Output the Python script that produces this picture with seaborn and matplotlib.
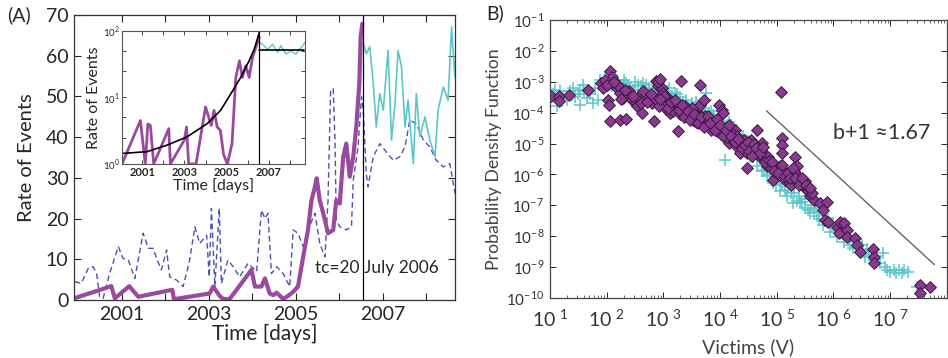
import numpy as np
import pandas as pd
import seaborn as sns
import matplotlib.pyplot as plt
from matplotlib.ticker import FixedLocator, FuncFormatter, LogLocator, NullFormatter

# panel A: rate of events (main axis)
purple_t = [1999.90, 2000.76, 2000.84, 2001.17, 2001.38, 2002.16, 2002.20, 2003.02, 2003.10, 2003.25,
            2003.33, 2003.48, 2003.98, 2004.06, 2004.21, 2004.29, 2004.40, 2004.48, 2004.56, 2004.71,
            2004.82, 2004.94, 2005.05, 2005.13, 2005.21, 2005.28, 2005.36, 2005.44, 2005.48, 2005.55,
            2005.63, 2005.74, 2005.86, 2005.93, 2006.01, 2006.09, 2006.16, 2006.24, 2006.32, 2006.39,
            2006.46, 2006.49, 2006.53]
purple_v = [0.4, 3.4, 0.4, 3.4, 0.8, 2.5, 0.2, 1.6, 3.3, 1.0,
            0.25, 0.25, 7.4, 3.3, 3.3, 5.3, 1.6, 1.2, 1.8, 0.25,
            1.0, 2.0, 3.3, 8.2, 13.1, 17.2, 24.5, 27.8, 29.9, 24.5,
            21.3, 16.4, 17.2, 24.5, 23.7, 35.2, 38.4, 30.3, 35.2, 42.5,
            53.2, 64.6, 67.9]

blue_t = [1999.92, 2000.07, 2000.23, 2000.34, 2000.42, 2000.49, 2000.57, 2000.72, 2000.92, 2001.03,
          2001.15, 2001.30, 2001.49, 2001.61, 2001.72, 2001.80, 2001.91, 2002.03, 2002.10, 2002.26,
          2002.41, 2002.56, 2002.68, 2002.79, 2002.95, 2003.01, 2003.06, 2003.14, 2003.24, 2003.29,
          2003.44, 2003.56, 2003.71, 2003.90, 2004.10, 2004.21, 2004.29, 2004.36, 2004.44, 2004.56,
          2004.71, 2004.86, 2004.94, 2005.05, 2005.17, 2005.28, 2005.44, 2005.55, 2005.67, 2005.74,
          2005.80, 2005.86, 2005.90, 2005.93, 2006.01, 2006.16, 2006.28, 2006.32, 2006.43, 2006.51,
          2006.55, 2006.62, 2006.66, 2006.78, 2006.93, 2007.08, 2007.24, 2007.39, 2007.51, 2007.62,
          2007.77, 2007.93, 2008.08, 2008.23, 2008.39, 2008.54, 2008.66]
blue_v = [4.5, 4.1, 7.8, 8.2, 6.5, 0.8, 0.4, 6.5, 13.1, 10.2,
          9.8, 5.3, 16.4, 12.7, 12.7, 10.2, 7.4, 12.3, 5.7, 4.9,
          3.3, 9.8, 18.0, 13.9, 15.9, 5.7, 22.5, 3.3, 22.5, 4.1,
          9.8, 8.2, 5.7, 9.0, 7.0, 22.1, 20.0, 21.3, 6.5, 8.2,
          6.5, 3.3, 17.2, 16.4, 13.1, 17.2, 21.3, 13.9, 10.6, 24.5,
          51.5, 51.9, 39.3, 19.6, 18.0, 17.2, 18.0, 29.4, 37.6, 49.9,
          46.6, 31.1, 27.8, 35.2, 38.4, 36.4, 34.3, 35.2, 37.6, 44.2,
          43.3, 39.3, 37.6, 34.3, 32.7, 33.5, 26.2]

cyan_t = [2006.55, 2006.62, 2006.70, 2006.78, 2006.85, 2006.93, 2007.01, 2007.12, 2007.20, 2007.28,
          2007.35, 2007.43, 2007.51, 2007.58, 2007.70, 2007.77, 2007.85, 2007.97, 2008.08, 2008.20,
          2008.27, 2008.39, 2008.50, 2008.58, 2008.62, 2008.66]
cyan_v = [63.0, 60.5, 62.2, 53.2, 42.5, 50.7, 46.6, 61.3, 39.3, 48.3,
          61.3, 57.2, 42.5, 49.1, 33.5, 50.7, 40.1, 45.0, 39.3, 35.2,
          46.6, 52.3, 49.1, 67.1, 60.5, 54.8]

tc_year = 2006.55

# panel A inset (log scale)
ins_purple_t = [2000.05, 2000.92, 2001.15, 2001.27, 2001.39, 2001.55, 2002.26, 2002.34, 2003.00, 2003.10,
                2003.20, 2003.55, 2004.00, 2004.27, 2004.40, 2004.55, 2004.70, 2004.85, 2005.03, 2005.25,
                2005.43, 2005.60, 2005.74, 2005.90, 2006.06, 2006.22, 2006.37, 2006.54]
ins_purple_v = [1.0, 4.5, 1.0, 4.0, 3.8, 1.0, 3.4, 1.0, 2.3, 3.6,
                1.0, 1.0, 7.2, 3.8, 6.4, 3.6, 3.2, 1.4, 1.0, 2.0,
                20, 35.6, 20, 30, 20, 40, 56, 80]
ins_cyan_t = [2006.55, 2006.69, 2006.93, 2007.17, 2007.40, 2007.56, 2007.80, 2008.04, 2008.27, 2008.51, 2008.70]
ins_cyan_v = [67, 63, 53, 63, 47.6, 60, 45, 50, 45, 56, 67]
fit_t = [2000.05, 2001.23, 2002.18, 2003.13, 2004.08, 2004.71, 2005.19, 2005.66, 2006.06, 2006.30, 2006.54]
fit_v = [1.44, 1.53, 1.92, 2.56, 4.05, 6.4, 11.3, 20, 35.7, 53, 95]
flat_t = [2006.55, 2008.65]
flat_v = [51.5, 51.5]

# panel B: pdf of victims, log10 values
diam_lx = [1.02, 1.16, 1.16, 1.34, 1.68, 1.91, 1.94, 2.03, 2.06, 2.09, 2.03, 2.05, 2.06, 2.24, 2.35,
           2.18, 2.24, 2.29, 2.38, 2.44, 2.50, 2.53, 2.62, 2.68, 2.76, 2.84, 2.88, 2.91, 2.97, 2.99,
           3.03, 3.06, 3.12, 3.15, 3.21, 3.26, 3.32, 3.41, 3.47, 3.53, 3.62, 3.65, 3.65, 3.71, 3.74,
           3.82, 3.88, 3.94, 3.99, 4.03, 4.06, 4.11, 4.15, 4.21, 4.26, 4.29, 4.35, 4.41, 4.47, 4.47,
           4.54, 4.59, 4.65, 4.68, 4.71, 4.74, 4.79, 4.82, 4.88, 4.94, 5.00, 5.06, 5.08, 5.09, 5.09,
           5.09, 5.15, 5.21, 5.26, 5.32, 5.35, 5.38, 5.41, 5.47, 5.53, 5.59, 5.65, 5.76, 5.88, 5.82,
           5.85, 5.91, 6.06, 6.09, 6.12, 6.18, 6.24, 6.24, 6.38, 6.41, 6.47, 6.69, 6.71, 6.71, 7.53,
           7.53, 7.71,
           3.05, 3.10, 3.18, 3.25, 3.30, 3.38, 3.45, 3.50, 3.58, 3.60, 3.68, 3.75, 3.80, 3.85, 3.90,
           3.97, 4.02, 4.08, 4.12, 4.18, 4.24, 4.30, 4.36, 4.42, 4.50, 4.55, 4.62, 4.66, 4.72, 4.78,
           4.85, 4.90, 4.97, 5.02, 5.12, 5.18, 5.25, 5.30, 5.36, 5.44, 5.50, 5.56, 5.62, 2.55, 2.60,
           2.70, 2.80, 2.86, 2.93, 2.40, 2.20, 2.10, 1.98, 2.00,
           3.02, 3.08, 3.13, 3.20, 3.27, 3.33, 3.36, 3.43, 3.48, 3.55, 3.62, 3.67, 3.72, 3.78, 3.83,
           3.92, 3.95, 4.00, 4.05, 4.10, 4.16, 4.20, 4.27, 4.32, 4.38, 4.44, 4.50, 4.52, 4.57, 4.60,
           4.64, 4.70, 4.76, 4.80, 4.86, 4.92, 4.96, 5.03, 5.10, 5.14, 5.20, 5.23, 5.28, 5.33, 5.39,
           5.45, 5.52, 5.58, 2.65, 2.72, 2.78, 2.95, 2.46, 2.33, 2.14, 2.26, 2.90, 2.95]
diam_ly = [-3.47, -3.47, -3.63, -3.44, -3.27, -3.03, -3.20, -2.98, -2.66, -3.03, -3.58, -3.74, -4.28, -4.25, -4.20,
           -3.20, -3.36, -3.52, -3.41, -3.58, -3.63, -3.79, -4.01, -3.58, -3.63, -4.28, -2.98, -3.14, -3.20, -3.36,
           -3.63, -3.90, -4.01, -3.79, -3.85, -4.60, -2.98, -3.90, -4.12, -4.23, -4.01, -3.12, -3.74, -3.58, -4.12,
           -4.44, -4.39, -4.60, -3.74, -3.90, -4.01, -4.66, -4.98, -4.87, -4.55, -5.09, -5.31, -5.09, -5.31, -5.79,
           -4.87, -5.09, -4.55, -5.25, -5.42, -4.98, -5.52, -5.74, -5.63, -6.17, -5.96, -5.74, -3.34, -4.82, -5.04,
           -5.31, -6.17, -6.23, -6.34, -5.42, -5.74, -6.06, -6.23, -6.39, -6.50, -6.71, -6.82, -6.93, -6.88, -7.15,
           -7.47, -7.53, -7.69, -7.90, -7.53, -7.58, -7.80, -8.01, -8.07, -8.28, -8.50, -8.42, -8.66, -8.88, -9.58,
           -9.85, -9.64,
           -3.75, -3.55, -3.95, -3.70, -4.05, -3.80, -4.00, -3.85, -4.30, -4.10, -4.20, -4.30, -4.25, -4.55, -4.35,
           -4.45, -4.70, -4.50, -4.80, -4.60, -4.90, -4.75, -5.00, -4.90, -5.10, -5.20, -5.05, -5.35, -5.20, -5.35,
           -5.45, -5.80, -5.70, -5.85, -5.90, -6.00, -6.05, -5.90, -6.20, -6.30, -6.20, -6.55, -6.60, -3.50, -3.70,
           -3.45, -3.70, -3.55, -3.80, -3.30, -3.10, -2.85, -2.95, -3.10,
           -3.45, -3.85, -3.65, -3.60, -3.90, -3.75, -4.15, -3.95, -4.25, -4.05, -4.35, -4.15, -4.45, -4.10, -4.35,
           -4.55, -4.20, -4.40, -4.75, -4.55, -4.40, -4.75, -4.95, -4.85, -5.15, -5.05, -4.95, -5.25, -5.40, -5.00,
           -5.15, -5.30, -5.10, -5.60, -5.55, -5.60, -5.90, -5.95, -5.70, -6.05, -5.95, -6.10, -5.80, -6.10, -6.35,
           -6.10, -6.35, -6.45, -3.30, -3.65, -3.40, -3.55, -3.45, -3.25, -3.00, -3.55, -3.00, -2.90]

plus_lx = [1.09, 1.18, 1.12, 1.24, 1.41, 1.53, 1.59, 1.65, 1.53, 1.76, 1.85, 1.88, 1.97, 2.06, 2.12,
           2.18, 2.24, 2.29, 2.38, 2.47, 2.56, 2.65, 2.74, 2.82, 2.94, 3.06, 3.15, 3.24, 3.35, 3.44,
           3.53, 3.65, 3.76, 3.76, 3.88, 4.00, 4.12, 4.09, 4.24, 4.35, 4.41, 4.53, 4.65, 4.74, 4.82,
           4.94, 5.06, 5.18, 5.29, 5.41, 5.50, 5.59, 5.71, 5.82, 5.94, 6.06, 6.18, 6.29, 6.35, 6.47,
           6.56, 6.71, 6.88, 6.82, 6.91, 7.00, 7.06, 7.15, 7.21, 7.32, 7.47,
           3.00, 3.10, 3.20, 3.30, 3.40, 3.50, 3.60, 3.70, 3.80, 3.90, 4.00, 4.20, 4.30, 4.45, 4.60,
           4.70, 4.80, 4.90, 5.00, 5.10, 5.20, 5.30, 5.40, 5.50, 5.60, 5.70, 5.90, 6.00, 6.10, 6.20,
           6.30, 6.40, 6.50, 6.60, 2.00, 2.30, 2.50, 2.70, 2.90, 1.30, 1.45, 1.70,
           1.05, 1.20, 1.35, 1.50, 1.60, 1.80, 1.90, 2.10, 2.20, 2.35, 2.42, 2.60, 2.75, 2.88, 3.05,
           3.25, 3.45, 3.58, 3.72, 3.85, 3.95, 4.05, 4.15, 4.25, 4.40, 4.50, 4.58, 4.68, 4.78, 4.88,
           4.98, 5.05, 5.15, 5.25, 5.35, 5.45, 5.55, 5.65, 5.75, 5.85, 5.98, 6.12, 6.25, 6.42, 6.52,
           6.62, 6.75, 6.95, 7.10, 7.25]
plus_ly = [-3.25, -3.31, -3.79, -3.47, -3.20, -3.25, -3.12, -3.52, -3.74, -3.68, -3.58, -2.93, -2.87, -3.09, -2.98,
           -2.93, -3.14, -3.09, -3.14, -3.25, -3.09, -3.03, -3.20, -3.36, -3.25, -3.31, -3.47, -3.58, -3.68, -3.79,
           -3.90, -3.90, -3.36, -3.58, -4.06, -4.28, -4.39, -5.52, -4.60, -4.87, -5.25, -5.42, -5.74, -5.90, -6.06,
           -6.28, -6.55, -6.71, -6.93, -6.93, -7.09, -7.26, -7.36, -7.63, -7.85, -8.01, -8.18, -8.28, -8.39, -8.50,
           -8.66, -8.77, -8.55, -8.88, -8.99, -9.15, -9.10, -9.10, -9.20, -9.15, -9.64,
           -3.40, -3.20, -3.35, -3.50, -3.60, -3.70, -3.75, -3.85, -4.00, -4.20, -4.10, -4.40, -4.60, -4.90, -5.20,
           -5.50, -5.70, -5.90, -6.10, -6.30, -6.40, -6.60, -6.70, -6.80, -7.00, -7.10, -7.40, -7.60, -7.70, -7.90,
           -8.00, -8.20, -8.30, -8.40, -3.00, -2.95, -3.00, -3.10, -3.15, -3.60, -3.50, -3.40,
           -3.40, -3.55, -3.30, -3.40, -3.30, -3.20, -3.05, -3.15, -3.05, -3.05, -3.20, -3.15, -3.30, -3.30, -3.50,
           -3.40, -3.90, -3.65, -4.05, -3.95, -4.30, -4.50, -4.30, -4.75, -4.75, -5.15, -5.45, -5.30, -5.85, -6.00,
           -6.35, -6.20, -6.50, -6.60, -6.85, -6.90, -7.15, -7.20, -7.45, -7.50, -7.70, -7.90, -8.10, -8.35, -8.45,
           -8.60, -8.65, -9.10, -9.20, -9.10]

guide_lx = [4.82, 7.78]
guide_ly = [-3.94, -8.92]

PURPLE = '#9a4a9e'
BLUE = '#4f4fb0'
CYAN = '#5cc6c9'

sns.set_style('ticks')
plt.rcParams['font.family'] = ['Lato', 'DejaVu Sans']
plt.rcParams['mathtext.fontset'] = 'custom'
plt.rcParams['mathtext.rm'] = 'Lato'

fig = plt.figure(figsize=(9.48, 3.58), dpi=100)
ax = fig.add_axes([0.078, 0.162, 0.402, 0.796])
ins = fig.add_axes([0.1287, 0.542, 0.193, 0.3715])
axb = fig.add_axes([0.580, 0.1676, 0.4188, 0.7765])

# ---- panel A main
sns.lineplot(x=blue_t, y=blue_v, ax=ax, color=BLUE, lw=1.0, linestyle=(0, (4, 2.5)),
             estimator=None, sort=False)
sns.lineplot(x=cyan_t, y=cyan_v, ax=ax, color=CYAN, lw=1.2, estimator=None, sort=False)
sns.lineplot(x=purple_t, y=purple_v, ax=ax, color=PURPLE, lw=3.0, estimator=None, sort=False)
ax.axvline(tc_year, color='black', lw=0.9)
ax.set_xlim(1999.9, 2008.66)
ax.set_ylim(0, 70)
ax.set_xticks([2001, 2002, 2003, 2004, 2005, 2006, 2007, 2008])
ax.set_xticklabels(['2001', '', '2003', '', '2005', '', '2007', ''])
ax.set_yticks(range(0, 71, 10))
ax.tick_params(direction='in', top=True, right=True, labelsize=14, length=5, width=0.8, pad=4)
ax.set_xlabel('Time [days]', fontsize=15, labelpad=1)
ax.set_ylabel('Rate of Events', fontsize=14.5, labelpad=8)
for s in ax.spines.values():
    s.set_color('#333333')
    s.set_linewidth(0.9)
ax.text(2005.45, 7.8, 'tc=20 July 2006', fontsize=12.5, va='center', ha='left')
fig.text(0.008, 0.958, '(A)', fontsize=14, va='center', ha='left')

# ---- inset
ins.set_yscale('log')
sns.lineplot(x=ins_cyan_t, y=ins_cyan_v, ax=ins, color=CYAN, lw=1.0, estimator=None, sort=False)
sns.lineplot(x=ins_purple_t, y=ins_purple_v, ax=ins, color=PURPLE, lw=2.0, estimator=None, sort=False)
sns.lineplot(x=fit_t, y=fit_v, ax=ins, color='black', lw=1.2, estimator=None, sort=False)
sns.lineplot(x=flat_t, y=flat_v, ax=ins, color='black', lw=1.2, estimator=None, sort=False)
ins.axvline(tc_year, color='black', lw=0.9)
ins.set_xlim(2000.05, 2008.7)
ins.set_ylim(1, 100)
ins.set_xticks([2001, 2002, 2003, 2004, 2005, 2006, 2007, 2008])
ins.set_xticklabels(['2001', '', '2003', '', '2005', '', '2007', ''], fontweight='bold')
ins.yaxis.set_major_locator(FixedLocator([1, 10, 100]))
ins.yaxis.set_minor_locator(FixedLocator([2.5, 5, 25, 50]))
ins.yaxis.set_minor_formatter(NullFormatter())
ins.yaxis.set_major_formatter(FuncFormatter(lambda v, p: r'$10^{%d}$' % round(np.log10(v))))
ins.tick_params(axis='x', which='both', direction='in', top=True, labelsize=8, length=3, width=0.6, pad=2)
ins.tick_params(axis='y', which='both', direction='in', right=True, labelsize=7, length=3, width=0.6, pad=1.5)
ins.set_xlabel('Time [days]', fontsize=11.5, labelpad=0)
ins.set_ylabel('Rate of Events', fontsize=11.5, labelpad=1)
for s in ins.spines.values():
    s.set_color('#555555')
    s.set_linewidth(0.8)

# ---- panel B
axb.set_xscale('log')
axb.set_yscale('log')
plus_df = pd.DataFrame({'V': np.power(10.0, plus_lx), 'P': np.power(10.0, plus_ly)})
diam_df = pd.DataFrame({'V': np.power(10.0, diam_lx), 'P': np.power(10.0, diam_ly)})
sns.scatterplot(data=plus_df, x='V', y='P', ax=axb, marker='+', s=70, color=CYAN, linewidth=1.1)
sns.scatterplot(data=diam_df, x='V', y='P', ax=axb, marker='D', s=36, color='#8a3a8e',
                edgecolor='#3a1a40', linewidth=0.7)
sns.lineplot(x=np.power(10.0, guide_lx), y=np.power(10.0, guide_ly), ax=axb, color='#666666', lw=1.0,
             estimator=None, sort=False)
axb.set_xlim(10, 1e8)
axb.set_ylim(1e-10, 1e-1)
axb.xaxis.set_major_locator(FixedLocator([10.0 ** k for k in range(1, 8)]))
axb.xaxis.set_minor_locator(LogLocator(base=10, subs=(2, 3, 4, 5, 6, 7, 8, 9), numticks=20))
axb.xaxis.set_minor_formatter(NullFormatter())
axb.yaxis.set_major_locator(FixedLocator([10.0 ** k for k in range(-10, 0)]))
axb.yaxis.set_minor_locator(FixedLocator([]))
axb.xaxis.set_major_formatter(FuncFormatter(lambda v, p: r'$10^{\ %d}$' % round(np.log10(v))))
axb.yaxis.set_major_formatter(FuncFormatter(lambda v, p: r'$10^{%d}$' % round(np.log10(v))))
axb.tick_params(axis='x', which='major', direction='in', top=True, labelsize=14, length=4, width=0.7,
                pad=7, labelcolor='#333333')
axb.tick_params(axis='x', which='minor', direction='in', top=True, length=2, width=0.5)
axb.tick_params(axis='y', direction='in', right=True, labelsize=11, length=4, width=0.7, pad=4,
                labelcolor='#333333')
axb.set_xlabel('Victims (V)', fontsize=14, color='#444444', labelpad=6)
axb.set_ylabel('Probability Density Function', fontsize=12.7, color='#444444', labelpad=3)
for s in axb.spines.values():
    s.set_color('#444444')
    s.set_linewidth(0.9)
axb.text(10 ** 6.0, 10 ** -4.66, 'b+1 \u22481.67', fontsize=15.5, color='#333333', va='center', ha='left')
fig.text(0.513, 0.963, 'B)', fontsize=14, va='center', ha='left')

fig.savefig('out.png', dpi=100)
